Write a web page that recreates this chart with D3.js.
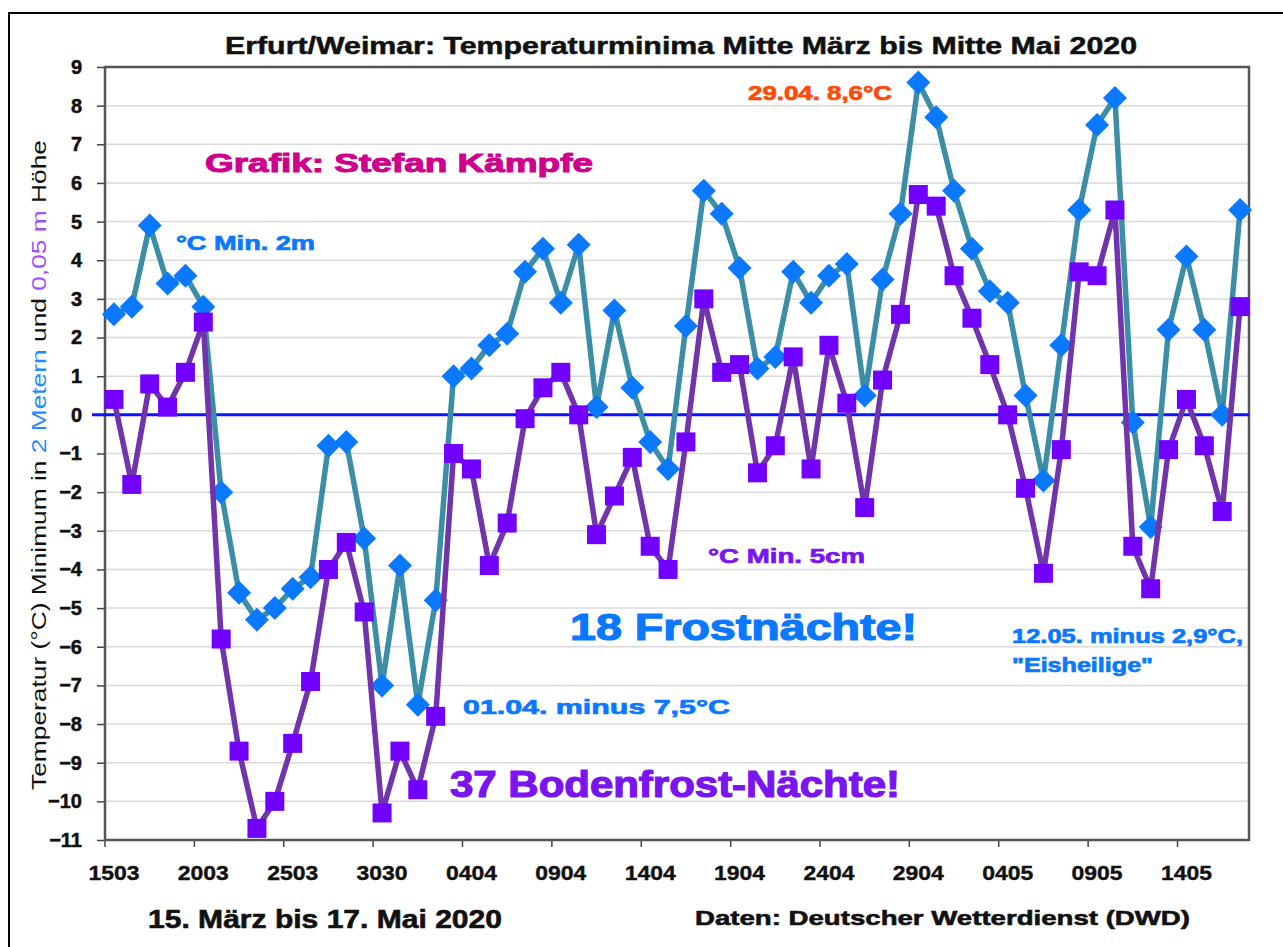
<!DOCTYPE html>
<html>
<head>
<meta charset="utf-8">
<script src="https://cdn.jsdelivr.net/npm/d3@7"></script>
<style>
  body { margin: 0; background: #fff; }
  svg text { font-family: "Liberation Sans", Arial, Helvetica, sans-serif; }
</style>
</head>
<body>
<div id="chart"></div>
<script>
var width = 1283;
var height = 947;

// x tick labels, one per 5 days (as in the original, incl. "3030")
var tickLabels = ["1503","2003","2503","3030","0404","0904","1404","1904","2404","2904","0405","0905","1405"];
var yTicks = d3.range(-11, 10);

// daily minimum in 2 m height, 15.03. - 17.05.2020
var min2m = [2.6, 2.8, 4.9, 3.4, 3.6, 2.8, -2.0, -4.6, -5.3, -5.0,
             -4.5, -4.2, -0.8, -0.7, -3.2, -7.0, -3.9, -7.5, -4.8, 1.0,
             1.2, 1.8, 2.1, 3.7, 4.3, 2.9, 4.4, 0.2, 2.7, 0.7,
             -0.7, -1.4, 2.3, 5.8, 5.2, 3.8, 1.2, 1.5, 3.7, 2.9,
             3.6, 3.9, 0.5, 3.5, 5.2, 8.6, 7.7, 5.8, 4.3, 3.2,
             2.9, 0.5, -1.7, 1.8, 5.3, 7.5, 8.2, -0.2, -2.9, 2.2,
             4.1, 2.2, 0.0, 5.3];

// daily minimum in 5 cm height
var min5cm = [0.4, -1.8, 0.8, 0.2, 1.1, 2.4, -5.8, -8.7, -10.7, -10.0,
              -8.5, -6.9, -4.0, -3.3, -5.1, -10.3, -8.7, -9.7, -7.8, -1.0,
              -1.4, -3.9, -2.8, -0.1, 0.7, 1.1, 0.0, -3.1, -2.1, -1.1,
              -3.4, -4.0, -0.7, 3.0, 1.1, 1.3, -1.5, -0.8, 1.5, -1.4,
              1.8, 0.3, -2.4, 0.9, 2.6, 5.7, 5.4, 3.6, 2.5, 1.3,
              0.0, -1.9, -4.1, -0.9, 3.7, 3.6, 5.3, -3.4, -4.5, -0.9,
              0.4, -0.8, -2.5, 2.8];

var days = d3.timeDay.range(new Date(2020, 2, 15), new Date(2020, 4, 18));

var plot = {left: 105, right: 1249, top: 67, bottom: 840};

var svg = d3.select("#chart").append("svg")
  .attr("width", width)
  .attr("height", height)
  .attr("viewBox", "0 0 " + width + " " + height);

// outer frame of the picture
svg.append("rect")
  .attr("x", 9).attr("y", 13)
  .attr("width", width + 20).attr("height", height + 20)
  .attr("fill", "#fff").attr("stroke", "#000").attr("stroke-width", 2);

var x = d3.scaleBand()
  .domain(days)
  .range([plot.left, plot.right]);

var y = d3.scaleLinear()
  .domain([-11, 9])
  .range([plot.bottom, plot.top]);

var cx = function(i){ return x(days[i]) + x.bandwidth() / 2; };

// grid
svg.append("g").selectAll("line")
  .data(yTicks.filter(function(d){ return d !== 0 && d !== -11 && d !== 9; }))
  .enter().append("line")
  .attr("x1", plot.left).attr("x2", plot.right)
  .attr("y1", function(d){ return y(d); })
  .attr("y2", function(d){ return y(d); })
  .attr("stroke", "#dadada").attr("stroke-width", 1.5);

// y axis
var yAxis = svg.append("g")
  .attr("transform", "translate(" + plot.left + ",0)")
  .call(d3.axisLeft(y).tickValues(yTicks).tickSize(8).tickPadding(15).tickFormat(d3.format("d")));
yAxis.select(".domain").remove();
yAxis.selectAll("line").attr("stroke", "#444").attr("stroke-width", 1.5);
yAxis.selectAll("text")
  .attr("font-size", 20).attr("font-weight", "bold").attr("fill", "#111")
  .attr("stroke", "#111").attr("stroke-width", 0.5);

// x axis: labels at category centres, ticks on category borders
var every5 = days.filter(function(d, i){ return i % 5 === 0; });
var xAxis = svg.append("g")
  .attr("transform", "translate(0," + plot.bottom + ")")
  .call(d3.axisBottom(x).tickValues(every5).tickSize(7).tickPadding(18)
    .tickFormat(function(d, i){ return tickLabels[i]; }));
xAxis.select(".domain").remove();
xAxis.selectAll("line")
  .attr("x1", -x.bandwidth() / 2).attr("x2", -x.bandwidth() / 2)
  .attr("stroke", "#444").attr("stroke-width", 1.5);
xAxis.selectAll("text")
  .attr("font-size", 21).attr("font-weight", "bold").attr("fill", "#111")
  .attr("stroke", "#111").attr("stroke-width", 0.4)
  .attr("textLength", 51).attr("lengthAdjust", "spacingAndGlyphs");

// plot frame
svg.append("rect")
  .attr("x", plot.left).attr("y", plot.top)
  .attr("width", plot.right - plot.left).attr("height", plot.bottom - plot.top)
  .attr("fill", "none").attr("stroke", "#555").attr("stroke-width", 2.5);

// zero line
svg.append("line")
  .attr("x1", 92).attr("x2", plot.right)
  .attr("y1", y(0)).attr("y2", y(0))
  .attr("stroke", "#0a14ff").attr("stroke-width", 3);

var line = d3.line()
  .x(function(d, i){ return cx(i); })
  .y(function(d){ return y(d); });

// 2 m series
svg.append("path")
  .datum(min2m)
  .attr("d", line)
  .attr("fill", "none").attr("stroke", "#3b8ea5").attr("stroke-width", 5.5)
  .attr("stroke-linejoin", "round");

svg.append("g").selectAll("path")
  .data(min2m)
  .enter().append("path")
  .attr("d", "M0,-12L12,0L0,12L-12,0Z")
  .attr("transform", function(d, i){ return "translate(" + cx(i) + "," + y(d) + ")"; })
  .attr("fill", "#0a78ff");

// 5 cm series
svg.append("path")
  .datum(min5cm)
  .attr("d", line)
  .attr("fill", "none").attr("stroke", "#7234ab").attr("stroke-width", 5.5)
  .attr("stroke-linejoin", "round");

svg.append("g").selectAll("rect")
  .data(min5cm)
  .enter().append("rect")
  .attr("x", function(d, i){ return cx(i) - 9.5; })
  .attr("y", function(d){ return y(d) - 9.5; })
  .attr("width", 19).attr("height", 19)
  .attr("fill", "#7200ff");

// texts (bold, slightly thickened like the original)
var label = function(px, py, str, size, color, w, sw){
  var t = svg.append("text")
    .attr("x", px).attr("y", py)
    .attr("font-size", size).attr("font-weight", "bold")
    .attr("fill", color)
    .attr("stroke", color).attr("stroke-width", sw || 0.7)
    .text(str);
  if (w) t.attr("textLength", w).attr("lengthAdjust", "spacingAndGlyphs");
  return t;
};

label(225, 54, "Erfurt/Weimar: Temperaturminima Mitte März bis Mitte Mai 2020", 24, "#111", 912, 0.5);
label(748, 100, "29.04. 8,6°C", 21, "#ff4a08", 144);
label(205, 172, "Grafik: Stefan Kämpfe", 25, "#cf008e", 388, 1);
label(176, 250, "°C Min. 2m", 20, "#0a78ff", 139);
label(708, 563, "°C Min. 5cm", 20, "#7a14f0", 157);
label(570, 640, "18 Frostnächte!", 37, "#0a78ff", 347, 1.2);
label(1012, 643, "12.05. minus 2,9°C,", 20, "#0a78ff", 231);
label(1012, 672, "\"Eisheilige\"", 20, "#0a78ff", 141);
label(463, 714, "01.04. minus 7,5°C", 21, "#0a78ff", 267);
label(450, 797, "37 Bodenfrost-Nächte!", 36, "#7a14f0", 450, 1.2);
label(148, 928, "15. März bis 17. Mai 2020", 25, "#111", 354, 0.6);
label(695, 925, "Daten: Deutscher Wetterdienst (DWD)", 21, "#111", 495, 0.6);

// rotated y axis title with coloured parts
var ytitle = svg.append("text")
  .attr("transform", "translate(46,465) rotate(-90)")
  .attr("text-anchor", "middle")
  .attr("font-size", 20)
  .attr("fill", "#111")
  .attr("textLength", 650).attr("lengthAdjust", "spacingAndGlyphs");
ytitle.append("tspan").text("Temperatur (°C) Minimum in ");
ytitle.append("tspan").attr("fill", "#1e8cff").text("2 Metern");
ytitle.append("tspan").text(" und ");
ytitle.append("tspan").attr("fill", "#a050ff").text("0,05 m");
ytitle.append("tspan").text(" Höhe");
</script>
</body>
</html>
